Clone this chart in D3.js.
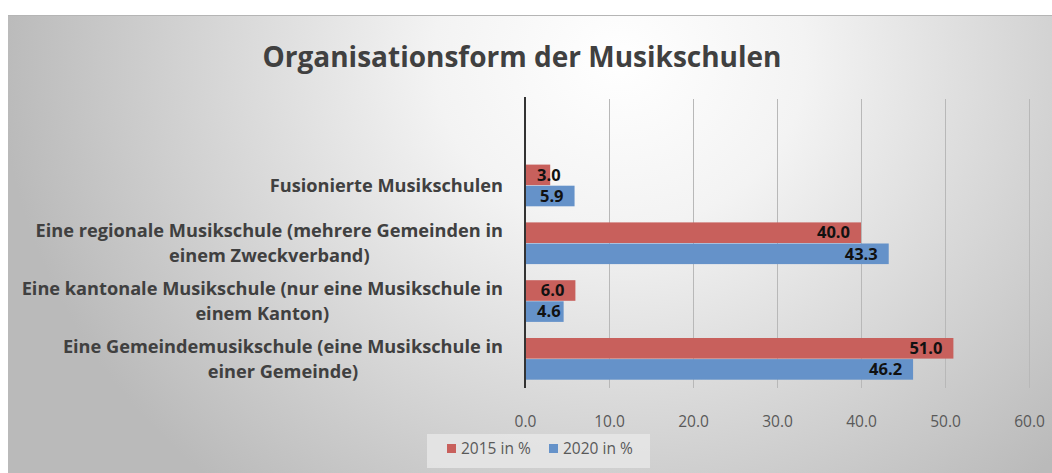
<!DOCTYPE html>
<html>
<head>
<meta charset="utf-8">
<script src="https://cdn.jsdelivr.net/npm/d3@7"></script>
<style>
  html, body { margin: 0; padding: 0; background: #ffffff; }
  svg { display: block; }
</style>
</head>
<body>
<svg id="chart" width="1052" height="473"></svg>
<script>
// ---------- data ----------
const title = "Organisationsform der Musikschulen";
const categories = [
  "",
  "Fusionierte Musikschulen",
  "Eine regionale Musikschule (mehrere Gemeinden in einem Zweckverband)",
  "Eine kantonale Musikschule (nur eine Musikschule in einem Kanton)",
  "Eine Gemeindemusikschule (eine Musikschule in einer Gemeinde)"
];
const categoryLines = [
  [],
  ["Fusionierte Musikschulen"],
  ["Eine regionale Musikschule (mehrere Gemeinden in", "einem Zweckverband)"],
  ["Eine kantonale Musikschule (nur eine Musikschule in", "einem Kanton)"],
  ["Eine Gemeindemusikschule (eine Musikschule in", "einer Gemeinde)"]
];
const seriesNames = ["2015 in %", "2020 in %"];
const values2015 = [null, 3.0, 40.0, 6.0, 51.0];
const values2020 = [null, 5.9, 43.3, 4.6, 46.2];
const xTicks = [0, 10, 20, 30, 40, 50, 60];
const colors = ["#C8605C", "#6592C9"];

// ---------- layout ----------
const svg = d3.select("#chart");
const W = 1052, H = 473;
const FONT = "'Open Sans', Lato, 'Liberation Sans', sans-serif";

const defs = svg.append("defs");
const grad = defs.append("radialGradient")
  .attr("id", "bg").attr("gradientUnits", "userSpaceOnUse")
  .attr("cx", 620).attr("cy", 60).attr("r", 620)
  .attr("gradientTransform", "translate(620,60) scale(1,0.9) translate(-620,-60)");
grad.append("stop").attr("offset", 0).attr("stop-color", "#ffffff");
grad.append("stop").attr("offset", 0.3).attr("stop-color", "#f3f3f3");
grad.append("stop").attr("offset", 1).attr("stop-color", "#bababa");

svg.append("rect").attr("x", 8).attr("y", 15).attr("width", W - 8).attr("height", H - 15)
  .attr("fill", "url(#bg)");
svg.append("line").attr("x1", 8).attr("x2", W).attr("y1", 15.5).attr("y2", 15.5)
  .attr("stroke", "#b5b5b5").attr("stroke-width", 1);

// title
svg.append("text").attr("x", 522).attr("y", 67)
  .attr("text-anchor", "middle")
  .attr("font-family", FONT).attr("font-weight", "bold").attr("font-size", 28)
  .attr("fill", "#404040").text(title);

const x0 = 525, x1 = 1029;
const yTop = 99, yBot = 388;
const x = d3.scaleLinear().domain([0, 60]).range([x0, x1]);
const y = d3.scaleBand().domain(categories).range([yTop, yBot])
  .paddingInner(0.27).paddingOuter(0.135);
const ySub = d3.scaleBand().domain([0, 1]).range([0, y.bandwidth()]);

// gridlines
svg.append("g").selectAll("line").data(xTicks.filter(d => d > 0)).join("line")
  .attr("x1", d => x(d) + 0.5).attr("x2", d => x(d) + 0.5)
  .attr("y1", yTop).attr("y2", yBot)
  .attr("stroke", "#b8b8b8").attr("stroke-width", 1);

// bottom axis (tick labels)
const xAxis = d3.axisBottom(x).tickValues(xTicks).tickFormat(d3.format(".1f"))
  .tickSize(0).tickPadding(0);
const ax = svg.append("g").attr("transform", `translate(0, ${yBot})`).call(xAxis);
ax.select(".domain").remove();
ax.selectAll("text").attr("y", 28)
  .attr("font-family", FONT).attr("font-size", 15.5).attr("fill", "#595959");

// bars
const series = [values2015, values2020];
const barG = svg.append("g");
series.forEach((vals, si) => {
  barG.selectAll(null).data(categories.map((c, i) => ({ c, v: vals[i] })).filter(d => d.v != null))
    .join("rect")
    .attr("x", x(0)).attr("y", d => y(d.c) + ySub(si))
    .attr("width", d => x(d.v) - x(0)).attr("height", ySub.bandwidth() - 0.5)
    .attr("fill", colors[si]);
});

// data labels
series.forEach((vals, si) => {
  const lab = svg.append("g").selectAll("text")
    .data(categories.map((c, i) => ({ c, v: vals[i] })).filter(d => d.v != null))
    .join("text")
    .attr("y", d => y(d.c) + ySub(si) + ySub.bandwidth() / 2 + 5.5)
    .attr("font-family", FONT).attr("font-weight", "bold").attr("font-size", 16.5)
    .attr("fill", "#111111").text(d => d3.format(".1f")(d.v));
  lab.each(function (d) {
    const w = this.getComputedTextLength();
    const xs = Math.max(x(d.v) - 11 - w, x(0) + 12);
    d3.select(this).attr("x", xs);
  });
});

// vertical axis line
svg.append("line").attr("x1", x0).attr("x2", x0).attr("y1", yTop - 2).attr("y2", yBot)
  .attr("stroke", "#333333").attr("stroke-width", 2);

// category labels
const labelRight = 503;
categories.forEach((c, i) => {
  const lines = categoryLines[i];
  if (!lines.length) return;
  const cy = y(c) + y.bandwidth() / 2;
  const g = svg.append("g");
  const lh = 25;
  const texts = lines.map((ln, k) => g.append("text")
    .attr("y", cy + (k - (lines.length - 1) / 2) * lh + 6)
    .attr("font-family", FONT).attr("font-weight", "bold").attr("font-size", 18.2)
    .attr("fill", "#404040").attr("text-anchor", "middle").text(ln));
  const widths = texts.map(t => t.node().getComputedTextLength());
  const maxW = d3.max(widths);
  const center = labelRight - maxW / 2;
  texts.forEach(t => t.attr("x", center));
});

// legend
const lg = svg.append("g");
lg.append("rect").attr("x", 427).attr("y", 434).attr("width", 223).attr("height", 34)
  .attr("fill", "#e6e6e6").attr("opacity", 0.85);
const legX = [447, 549];
seriesNames.forEach((n, i) => {
  lg.append("rect").attr("x", legX[i]).attr("y", 444).attr("width", 9).attr("height", 9)
    .attr("fill", colors[i]);
  lg.append("text").attr("x", legX[i] + 14).attr("y", 454)
    .attr("font-family", FONT).attr("font-size", 15.5).attr("fill", "#595959").text(n);
});
</script>
</body>
</html>
